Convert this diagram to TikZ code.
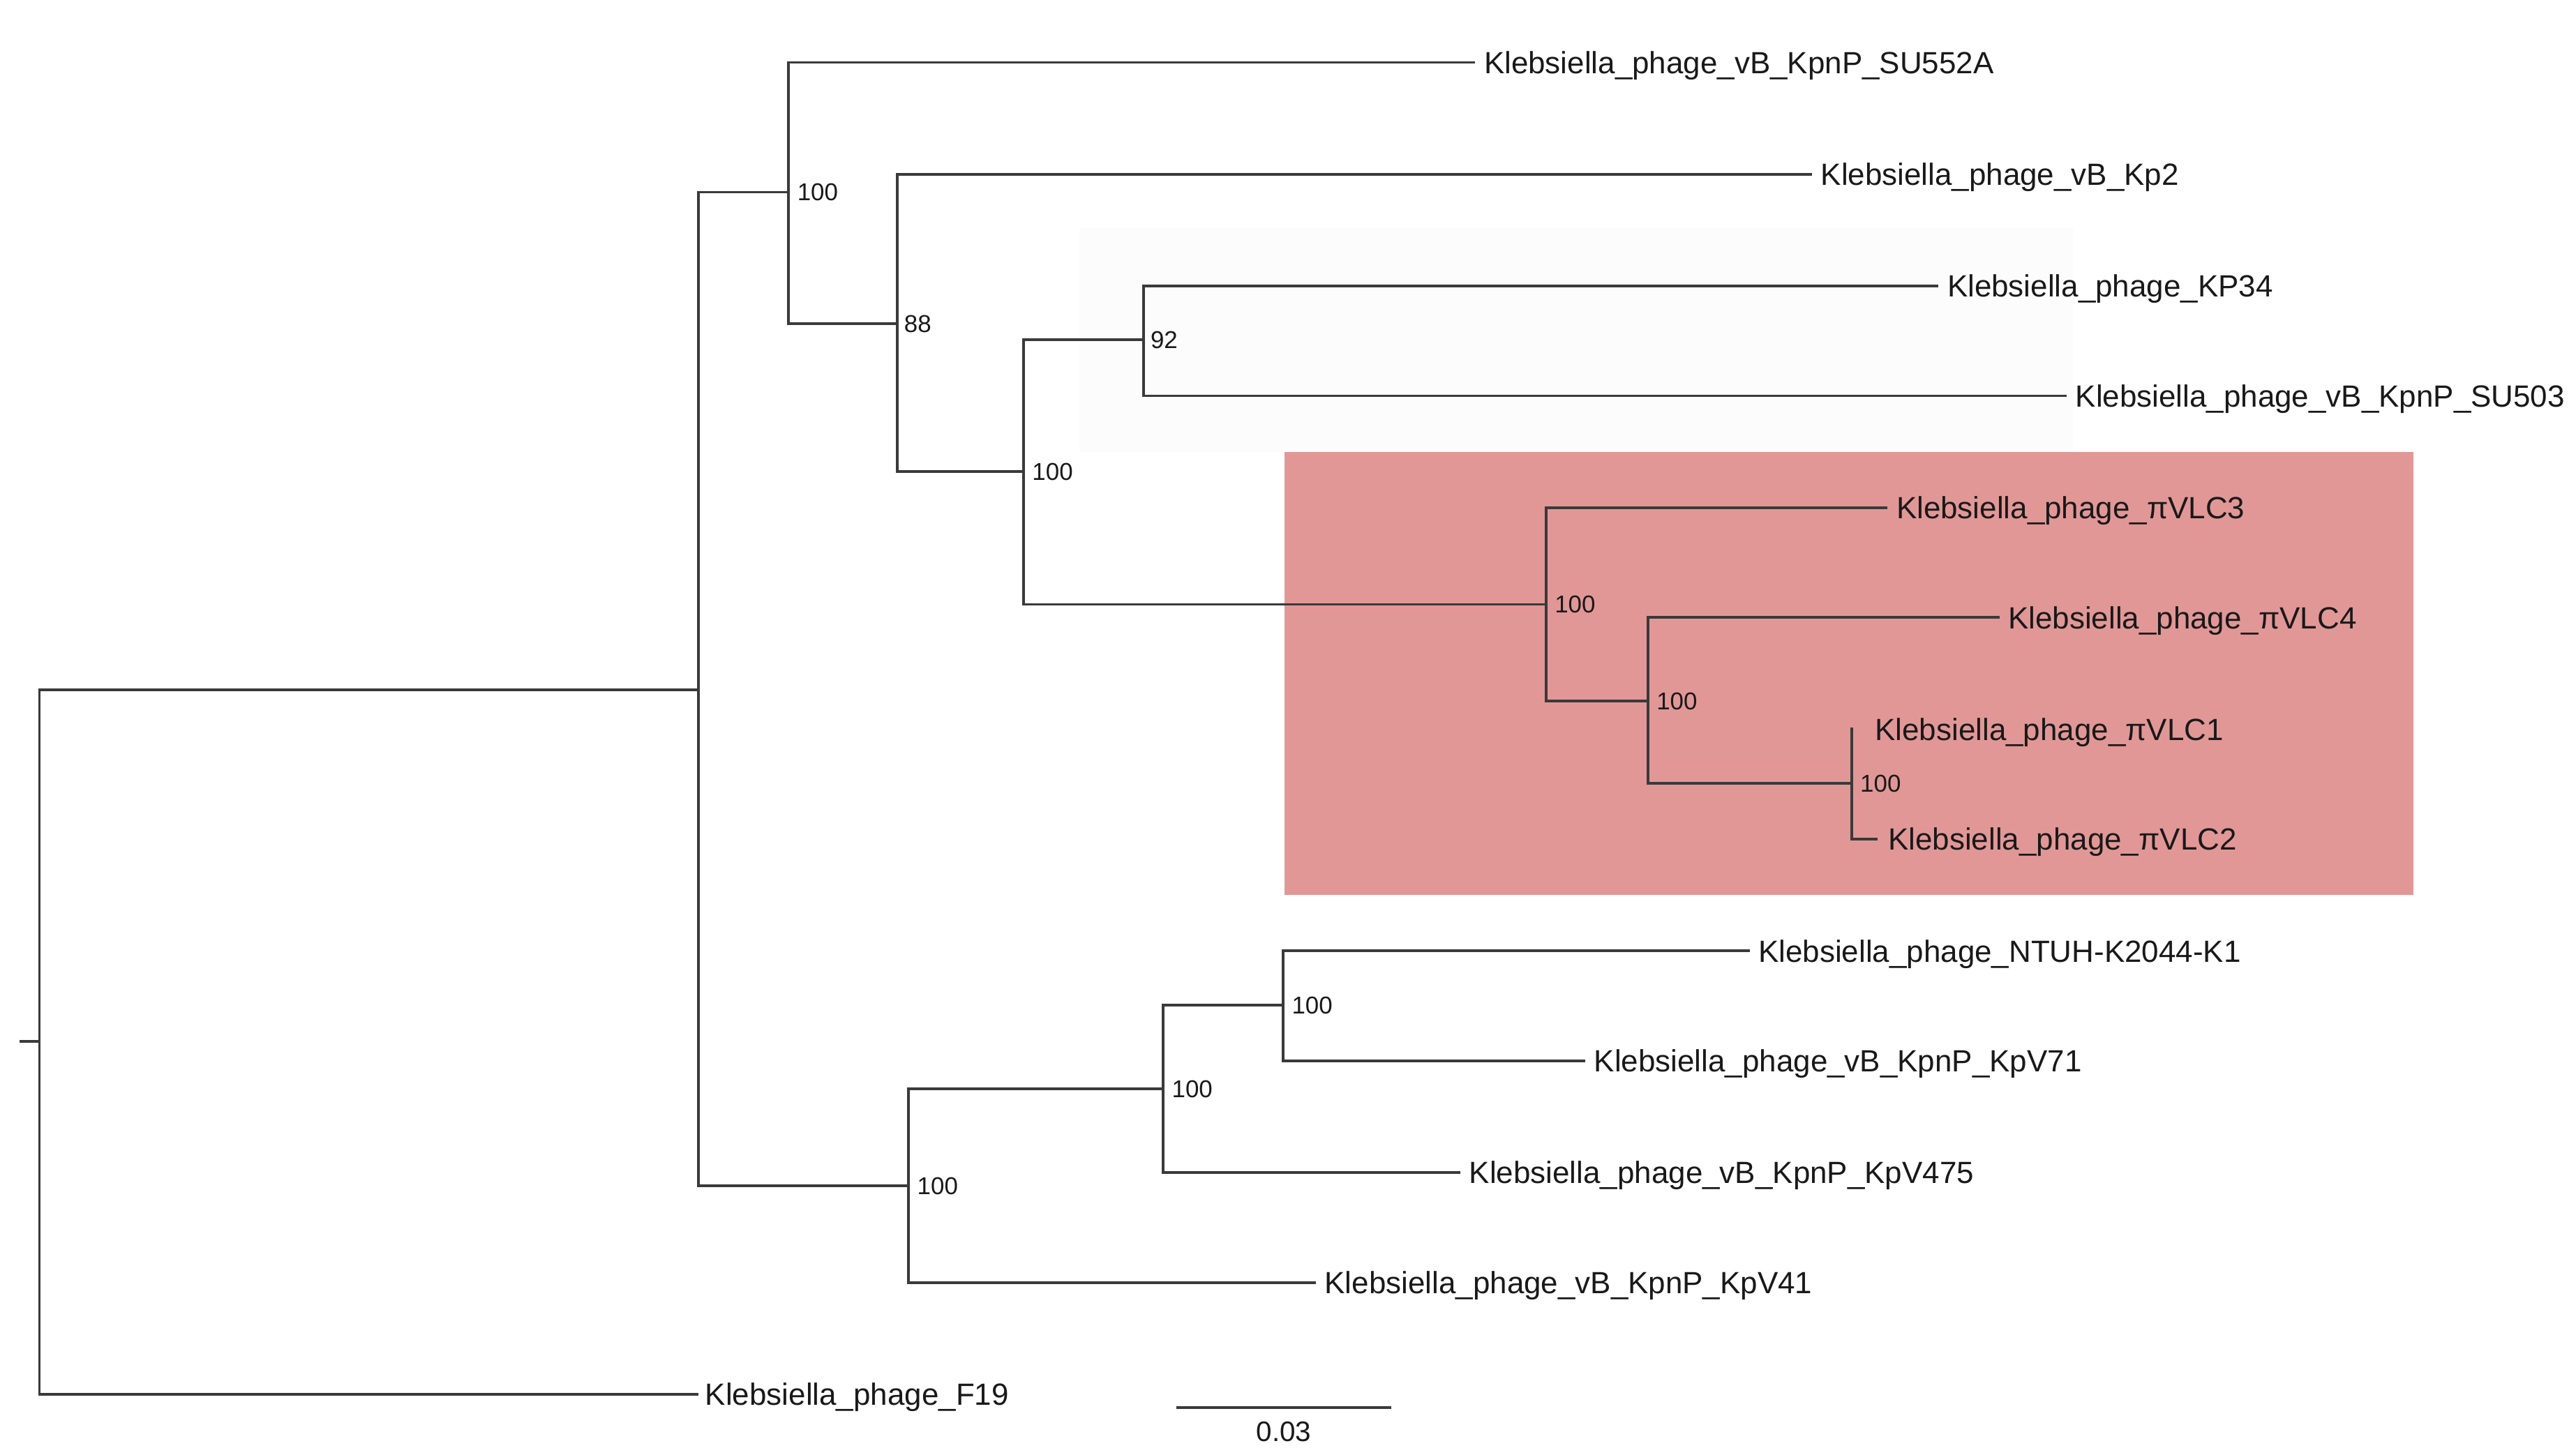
\documentclass[tikz,border=0pt]{standalone}
\usepackage{fontspec}
\setmainfont{Liberation Sans}
\definecolor{cladepink}{RGB}{226,151,151}
\definecolor{faintbg}{RGB}{252,252,252}
\definecolor{branch}{RGB}{58,58,58}
\definecolor{txt}{RGB}{25,25,25}
\begin{document}
\begin{tikzpicture}[x=0.6pt,y=-0.6pt,
  br/.style={draw=branch,line width=1pt,line join=miter},
  leaf/.style={anchor=base west,inner sep=0pt,text=txt,font=\fontsize{11.2}{13}\selectfont},
  boot/.style={anchor=base west,inner sep=0pt,text=txt,font=\fontsize{8.9}{10}\selectfont},
  scalelab/.style={anchor=base,inner sep=0pt,text=txt,font=\fontsize{10.3}{12}\selectfont}]
\useasboundingbox (0,0) rectangle (1568,885.9);
% background highlight boxes
\fill[faintbg] (657,139) rectangle (1262,275);
\fill[cladepink] (782,275) rectangle (1469,545);
% internal nodes
\coordinate (R) at (24,634);
\coordinate (Rs) at (12,634);
\coordinate (A) at (425,420);
\coordinate (B) at (480,117);
\coordinate (C) at (546,197);
\coordinate (D) at (623,287);
\coordinate (E) at (696,207);
\coordinate (F) at (941,368);
\coordinate (G) at (1003,427);
\coordinate (H) at (1127,477);
\coordinate (I) at (553,722);
\coordinate (J) at (708,663);
\coordinate (K) at (781,612);
% leaf ends
\coordinate (eSU552A) at (898,38);
\coordinate (eKp2) at (1103,106);
\coordinate (eKP34) at (1180,174);
\coordinate (eSU503) at (1258,241);
\coordinate (eVLC3) at (1149,309);
\coordinate (eVLC4) at (1217,376);
\coordinate (eVLC1) at (1128,444);
\coordinate (eVLC2) at (1143,511);
\coordinate (eNTUH) at (1065,579);
\coordinate (eKpV71) at (965,646);
\coordinate (eKpV475) at (889,714);
\coordinate (eKpV41) at (801,781);
\coordinate (eF19) at (425,849);
% branches
\draw[br] (Rs) -- (R);
\draw[br] (A) -| (R) |- (eF19);
\draw[br] (B) -| (A) |- (I);
\draw[br] (eSU552A) -| (B) |- (C);
\draw[br] (eKp2) -| (C) |- (D);
\draw[br] (E) -| (D) |- (F);
\draw[br] (eKP34) -| (E) |- (eSU503);
\draw[br] (eVLC3) -| (F) |- (G);
\draw[br] (eVLC4) -| (G) |- (H);
\draw[br] (eVLC1) -| (H) |- (eVLC2);
\draw[br] (J) -| (I) |- (eKpV41);
\draw[br] (K) -| (J) |- (eKpV475);
\draw[br] (eNTUH) -| (K) |- (eKpV71);
% leaf labels
\node[leaf] (lSU552A) at (903,44.7) {Klebsiella\_phage\_vB\_KpnP\_SU552A};
\node[leaf] (lKp2) at (1108,112.7) {Klebsiella\_phage\_vB\_Kp2};
\node[leaf] (lKP34) at (1185,180.7) {Klebsiella\_phage\_KP34};
\node[leaf] (lSU503) at (1263,247.7) {Klebsiella\_phage\_vB\_KpnP\_SU503};
\node[leaf] (lVLC3) at (1154,315.7) {Klebsiella\_phage\_πVLC3};
\node[leaf] (lVLC4) at (1222,382.7) {Klebsiella\_phage\_πVLC4};
\node[leaf] (lVLC1) at (1141,450.7) {Klebsiella\_phage\_πVLC1};
\node[leaf] (lVLC2) at (1149,517.7) {Klebsiella\_phage\_πVLC2};
\node[leaf] (lNTUH) at (1070,585.7) {Klebsiella\_phage\_NTUH-K2044-K1};
\node[leaf] (lKpV71) at (970,652.7) {Klebsiella\_phage\_vB\_KpnP\_KpV71};
\node[leaf] (lKpV475) at (894,720.7) {Klebsiella\_phage\_vB\_KpnP\_KpV475};
\node[leaf] (lKpV41) at (806,787.7) {Klebsiella\_phage\_vB\_KpnP\_KpV41};
\node[leaf] (lF19) at (429,855.7) {Klebsiella\_phage\_F19};
% bootstrap labels
\node[boot] (bB) at (485,122.3) {100};
\node[boot] (bC) at (550,202.3) {88};
\node[boot] (bD) at (628,292.3) {100};
\node[boot] (bE) at (700,212.3) {92};
\node[boot] (bF) at (946,373.3) {100};
\node[boot] (bG) at (1008,432.3) {100};
\node[boot] (bH) at (1132,482.3) {100};
\node[boot] (bI) at (558,727.3) {100};
\node[boot] (bJ) at (713,668.3) {100};
\node[boot] (bK) at (786,617.3) {100};
% scale bar
\coordinate (s1) at (716,857);
\coordinate (s2) at (847,857);
\draw[br] (s1) -- (s2);
\node[scalelab] (sl) at (781.5,877.5) {0.03};
\end{tikzpicture}
\end{document}
